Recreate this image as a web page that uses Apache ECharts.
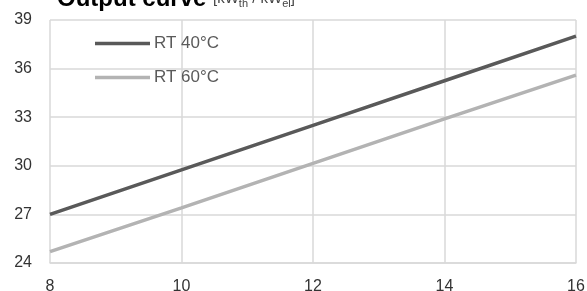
<!DOCTYPE html>
<html><head><meta charset="utf-8">
<script src="https://cdn.jsdelivr.net/npm/echarts@6/dist/echarts.min.js"></script>
<style>html,body{margin:0;padding:0;background:#fff}#c{width:587px;height:291px}</style>
</head><body><div id="c"></div>
<script>
const xValues = [8, 10, 12, 14, 16];
const rt40 = [27.0, 29.75, 32.5, 35.25, 38.0];
const rt60 = [24.7, 27.4, 30.15, 32.9, 35.6];
const seriesNames = ['RT 40°C', 'RT 60°C'];

const chart = echarts.init(document.getElementById('c'), null, {renderer: 'canvas'});
const ff = 'Liberation Sans, Arial, sans-serif';
chart.setOption({
  animation: false,
  textStyle: {fontFamily: ff},
  title: {
    text: '{b|Output curve} {s|[kW}{sub|th}{s| / kW}{sub|el}{s|]}',
    left: 52, top: -18,
    textStyle: {
      fontSize: 24,
      rich: {
        b: {fontSize: 24, fontWeight: 'bold', color: '#000', fontFamily: ff},
        s: {fontSize: 15, fontWeight: 'normal', color: '#444', fontFamily: ff},
        sub: {fontSize: 11, fontWeight: 'normal', color: '#444', fontFamily: ff, padding: [10, 0, 0, 0]}
      }
    }
  },
  legend: {
    orient: 'vertical', left: 90, top: 30,
    itemWidth: 55, itemHeight: 14, itemGap: 17,
    icon: 'path://M0,5.2 L55,5.2 L55,8.8 L0,8.8 Z',
    textStyle: {fontSize: 17, color: '#5a5a5a', fontFamily: ff, padding: [0, 0, 0, -1]},
    data: seriesNames
  },
  grid: {left: 50, right: 11, top: 20, bottom: 28, containLabel: false, outerBoundsMode: 'none'},
  xAxis: {
    type: 'value', min: 8, max: 16, interval: 2,
    axisLine: {show: true, lineStyle: {color: '#d9d9d9', width: 1.5}},
    axisTick: {show: false},
    splitLine: {show: true, lineStyle: {color: '#d9d9d9', width: 1.5}},
    axisLabel: {fontSize: 16, color: '#333', margin: 16, fontFamily: ff}
  },
  yAxis: {
    type: 'value', min: 24, max: 39, interval: 3,
    axisLine: {show: false},
    axisTick: {show: false},
    splitLine: {show: true, lineStyle: {color: '#d9d9d9', width: 1.5}},
    axisLabel: {fontSize: 16, color: '#333', margin: 18, fontFamily: ff}
  },
  series: [
    {name: seriesNames[0], type: 'line', data: xValues.map((x, i) => [x, rt40[i]]),
     showSymbol: false, lineStyle: {color: '#595959', width: 3.5}, itemStyle: {color: '#595959'}},
    {name: seriesNames[1], type: 'line', data: xValues.map((x, i) => [x, rt60[i]]),
     showSymbol: false, lineStyle: {color: '#b3b3b3', width: 3.5}, itemStyle: {color: '#b3b3b3'}}
  ]
});
</script></body></html>
